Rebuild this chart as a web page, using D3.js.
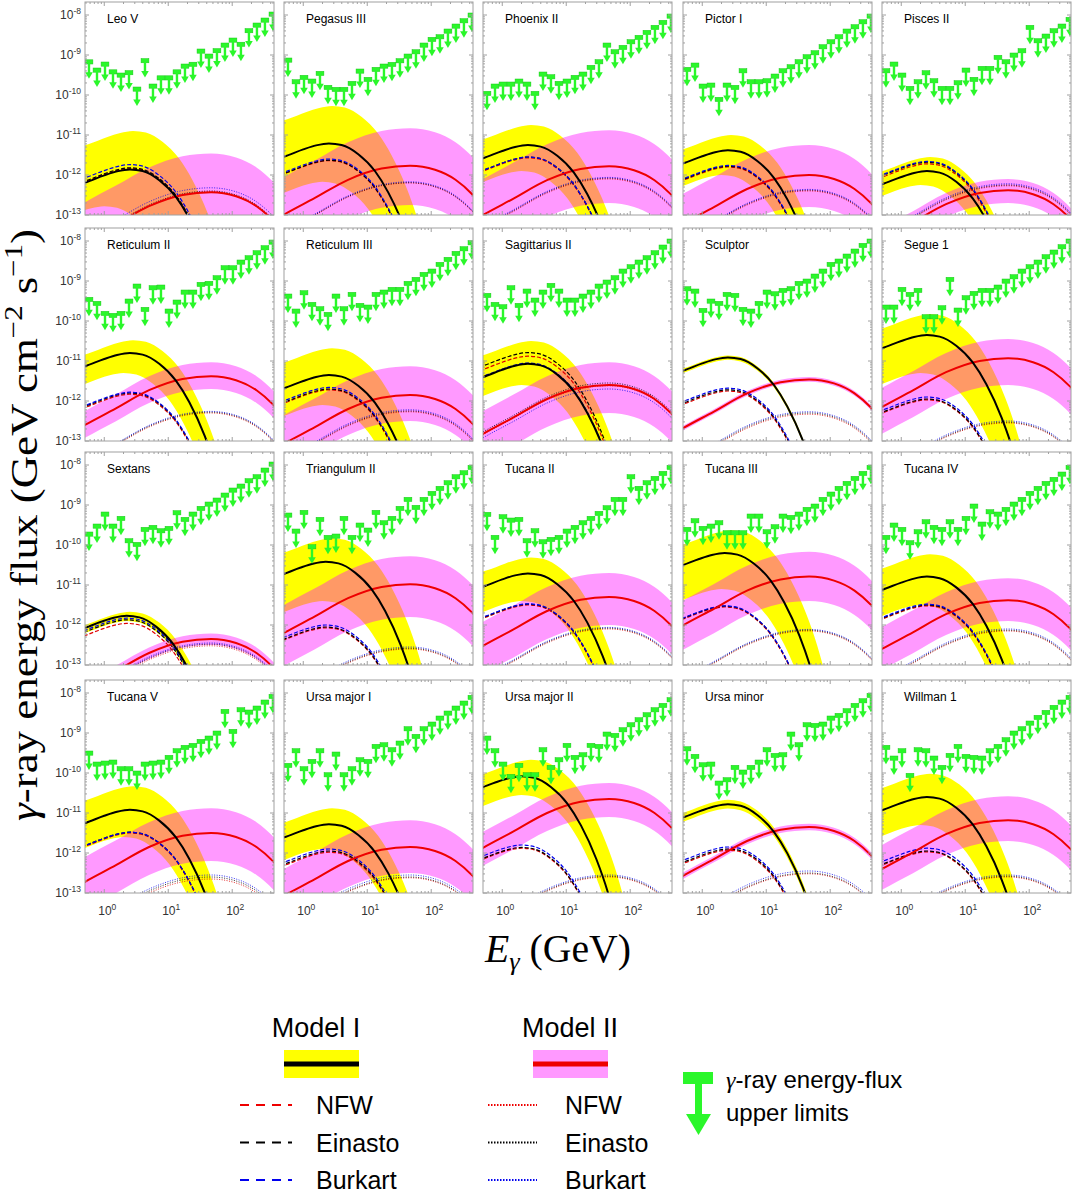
<!DOCTYPE html>
<html>
<head>
<meta charset="utf-8">
<script src="https://cdn.jsdelivr.net/npm/d3@7"></script>
<style>
  body { margin: 0; background: #fff; }
  text { font-family: "Liberation Sans", Arial, sans-serif; }
</style>
</head>
<body>
<div id="chart"></div>
<script>
// dwarf galaxies, one panel each
var dwarfs = ["Leo V", "Pegasus III", "Phoenix II", "Pictor I", "Pisces II",
              "Reticulum II", "Reticulum III", "Sagittarius II", "Sculptor", "Segue 1",
              "Sextans", "Triangulum II", "Tucana II", "Tucana III", "Tucana IV",
              "Tucana V", "Ursa major I", "Ursa major II", "Ursa minor", "Willman 1"];

// energy bin centres (GeV) of the upper limits
var binEnergy = [0.577, 0.770, 1.027, 1.369, 1.826, 2.435, 3.247, 4.330, 5.774, 7.700,
                 10.27, 13.69, 18.26, 24.35, 32.47, 43.30, 57.74, 77.00, 102.7, 136.9,
                 182.6, 243.5, 324.7, 433.0];

// log10 of the energy-flux upper limits, one row per dwarf
var upperLimits = [
  [-9.17,-9.375,-9.225,-9.42,-9.5,-9.44,-9.85,-9.14,-9.775,-9.57,-9.57,-9.42,-9.275,-9.23,-8.9,-9.025,-8.89,-8.75,-8.625,-8.73,-8.39,-8.25,-8.125,-7.975],
  [-9.125,-9.667,-9.558,-9.65,-9.458,-9.808,-9.858,-9.858,-9.708,-9.4,-9.608,-9.358,-9.275,-9.233,-9.142,-9.025,-8.917,-8.75,-8.608,-8.542,-8.4,-8.275,-8.142,-8.0],
  [-9.958,-9.775,-9.725,-9.725,-9.65,-9.725,-9.958,-9.475,-9.542,-9.708,-9.65,-9.558,-9.475,-9.308,-9.167,-8.75,-8.917,-8.808,-8.667,-8.558,-8.433,-8.308,-8.183,-8.025],
  [-9.358,-9.25,-9.775,-9.75,-10.108,-9.75,-9.808,-9.392,-9.667,-9.667,-9.642,-9.525,-9.392,-9.292,-9.167,-9.042,-8.942,-8.792,-8.667,-8.542,-8.4,-8.292,-8.167,-8.025],
  [-9.392,-9.225,-9.5,-9.833,-9.667,-9.442,-9.642,-9.833,-9.833,-9.692,-9.375,-9.608,-9.333,-9.333,-9.058,-9.167,-9.0,-8.892,-8.308,-8.642,-8.525,-8.392,-8.275,-8.108],
  [-9.458,-9.558,-9.808,-9.858,-9.808,-9.5,-9.125,-9.708,-9.167,-9.15,-9.75,-9.525,-9.275,-9.275,-9.083,-9.058,-8.917,-8.667,-8.667,-8.525,-8.417,-8.292,-8.167,-8.025],
  [-9.375,-9.75,-9.292,-9.583,-9.692,-9.833,-9.375,-9.692,-9.333,-9.608,-9.65,-9.333,-9.275,-9.208,-9.208,-9.058,-8.958,-8.833,-8.75,-8.583,-8.458,-8.308,-8.192,-8.042],
  [-9.358,-9.583,-9.642,-9.167,-9.608,-9.25,-9.475,-9.275,-9.108,-9.25,-9.475,-9.475,-9.375,-9.275,-9.125,-9.025,-8.917,-8.75,-8.642,-8.525,-8.417,-8.292,-8.15,-8.0],
  [-9.192,-9.25,-9.733,-9.5,-9.558,-9.333,-9.358,-9.708,-9.75,-9.558,-9.275,-9.317,-9.233,-9.192,-9.058,-9.0,-8.875,-8.75,-8.583,-8.5,-8.375,-8.25,-8.108,-8.0],
  [-9.65,-9.65,-9.208,-9.333,-9.233,-9.892,-9.892,-9.667,-8.958,-9.725,-9.417,-9.308,-9.233,-9.233,-9.15,-9.0,-8.892,-8.75,-8.642,-8.525,-8.392,-8.275,-8.142,-8.0],
  [-9.725,-9.525,-9.225,-9.525,-9.333,-9.892,-9.983,-9.608,-9.558,-9.642,-9.583,-9.192,-9.358,-9.225,-9.083,-8.975,-8.875,-8.75,-8.625,-8.525,-8.392,-8.292,-8.125,-7.975],
  [-9.25,-9.65,-9.183,-10.042,-9.358,-9.808,-9.775,-9.333,-9.808,-9.5,-9.625,-9.183,-9.442,-9.333,-9.083,-8.858,-9.058,-8.858,-8.708,-8.583,-8.442,-8.292,-8.192,-8.058],
  [-9.233,-9.808,-9.292,-9.375,-9.358,-9.892,-9.642,-9.917,-9.858,-9.808,-9.65,-9.558,-9.442,-9.333,-9.208,-9.067,-8.858,-8.858,-8.292,-8.583,-8.442,-8.333,-8.208,-8.058],
  [-9.608,-9.392,-9.583,-9.525,-9.442,-9.692,-9.692,-9.692,-9.275,-9.275,-9.667,-9.542,-9.275,-9.308,-9.225,-9.108,-9.025,-8.858,-8.725,-8.583,-8.458,-8.333,-8.208,-8.058],
  [-9.808,-9.5,-9.608,-9.942,-9.667,-9.417,-9.558,-9.608,-9.417,-9.608,-9.333,-9.025,-9.475,-9.167,-9.225,-9.108,-8.975,-8.858,-8.708,-8.583,-8.458,-8.358,-8.225,-8.058],
  [-9.5,-9.775,-9.75,-9.725,-9.892,-9.892,-10.0,-9.775,-9.75,-9.725,-9.608,-9.442,-9.358,-9.308,-9.208,-9.125,-9.0,-8.458,-8.958,-8.417,-8.475,-8.375,-8.225,-8.083],
  [-9.808,-9.442,-9.892,-9.708,-9.442,-10.042,-9.525,-10.042,-9.892,-9.667,-9.708,-9.333,-9.292,-9.417,-9.25,-8.892,-9.083,-8.892,-8.775,-8.625,-8.5,-8.375,-8.25,-8.108],
  [-9.125,-9.442,-9.775,-10.083,-9.808,-10.042,-10.042,-9.417,-9.858,-9.667,-9.308,-9.608,-9.542,-9.308,-9.333,-9.025,-9.058,-8.917,-8.792,-8.667,-8.542,-8.417,-8.308,-8.167],
  [-9.392,-9.583,-9.792,-9.775,-10.25,-10.167,-9.858,-9.975,-9.858,-9.725,-9.417,-9.558,-9.542,-9.025,-9.292,-8.792,-8.808,-8.775,-8.625,-8.558,-8.442,-8.308,-8.192,-8.058],
  [-9.358,-9.625,-9.442,-10.058,-9.417,-9.442,-9.625,-9.858,-9.558,-9.333,-9.583,-9.608,-9.625,-9.442,-9.333,-9.167,-9.0,-8.892,-8.75,-8.608,-8.483,-8.358,-8.225,-8.108]
];

// spectral shapes: log10 E (GeV) and log10 flux relative to the peak
var shapeILogE  = [-1.3, -0.9, -0.6, -0.3, 0, 0.2, 0.4, 0.6, 0.86, 1.12, 1.33, 1.57, 1.75, 1.9, 2.1, 2.4];
var shapeIRel   = [-1.0, -0.62, -0.46, -0.33, -0.15, -0.05, 0, -0.04, -0.27, -0.69, -1.23, -2.07, -2.9, -3.8, -5.5, -9];
var shapeIILogE = [-1.2, -0.7, -0.301, 0.176, 0.70, 1.224, 1.67, 2.06, 2.38, 2.64, 2.8, 3.0];
var shapeIIRel  = [-2.1, -1.6, -1.22, -0.81, -0.35, -0.07, 0, -0.10, -0.35, -0.71, -1.0, -1.5];

// Model I (yellow band, black line): log10 peak flux and log10 E shift of the shape
var peakI    = [-11.86,-11.21,-11.25,-11.38,-11.9,-10.8,-11.35,-11.07,-10.91,-10.35,-11.77,-10.42,-10.71,-10.2,-10.79,-10.92,-11.28,-10.08,-10.78,-10.6];
var shiftI   = [0,0,0,0,0,0,0,0,0,0,-0.05,-0.05,0,-0.05,0,0,0,-0.1,0,0];
var bandHiI  = [-10.9,-10.275,-10.75,-11.0,-11.55,-10.48,-10.68,-10.5,-10.86,-9.83,-11.67,-9.83,-10.31,-9.63,-10.23,-10.33,-10.88,-9.67,-10.67,-10.02];
var bandHiShiftI = [0.05,0.05,0.05,0.05,0.05,0.05,0.05,0.05,0,0.05,0,0.05,0.05,0.05,0.05,0.05,0.05,0.05,0,0.05];
var bandLoI  = [-12.78,-12.17,-11.9,-12.0,-12.25,-11.3,-12.1,-11.6,-10.97,-11.3,-11.9,-11.4,-11.4,-11.1,-11.5,-11.6,-11.9,-10.55,-10.89,-11.3];
var bandLoShiftI = [-0.4,-0.1,-0.1,-0.1,-0.1,-0.1,-0.1,-0.1,0,-0.1,-0.05,-0.1,-0.1,-0.1,-0.1,-0.1,-0.1,-0.1,0,-0.1];
var nfwI     = [-11.84,-11.64,-11.57,-11.8,-11.72,-11.83,-11.72,-10.88,-11.75,-11.97,-11.96,-12.07,-11.5,-11.55,-11.52,-11.5,-11.98,-11.88,-11.93,-11.97];
var einastoI = [-11.82,-11.63,-11.55,-11.78,-11.68,-11.8,-11.7,-10.79,-11.72,-11.95,-11.87,-12.05,-11.48,-11.53,-11.5,-11.48,-11.95,-11.86,-11.9,-11.95];
var burkartI = [-11.74,-11.6,-11.55,-11.76,-11.66,-11.78,-11.66,-11.05,-11.68,-11.9,-11.83,-12.0,-11.47,-11.52,-11.48,-11.48,-11.9,-11.8,-11.85,-11.88];

// Model II (magenta band, red line)
var peakII    = [-12.43,-11.77,-11.78,-12.0,-12.38,-11.38,-11.85,-11.6,-11.46,-10.93,-12.35,-10.98,-11.3,-10.79,-11.38,-11.5,-11.85,-10.65,-11.35,-11.18];
var bandHiII  = [-11.46,-10.83,-10.88,-11.25,-12.1,-11.03,-11.13,-11.03,-11.4,-10.45,-12.21,-10.28,-10.7,-10.17,-10.83,-10.88,-11.18,-10.25,-11.27,-10.58];
var bandLoII  = [-13.3,-12.75,-12.7,-12.8,-12.7,-11.7,-12.5,-12.3,-11.52,-11.6,-12.5,-11.8,-12.0,-11.4,-11.9,-12.2,-12.5,-11.1,-11.43,-11.7];
var nfwII     = [-12.42,-12.2,-12.1,-12.4,-12.27,-12.3,-12.27,-11.62,-12.33,-12.55,-12.52,-12.6,-12.1,-12.15,-12.15,-12.65,-12.62,-12.6,-12.52,-12.6];
var einastoII = [-12.4,-12.19,-12.08,-12.38,-12.25,-12.28,-12.25,-11.55,-12.3,-12.53,-12.48,-12.58,-12.08,-12.13,-12.13,-12.6,-12.6,-12.58,-12.5,-12.58];
var burkartII = [-12.32,-12.17,-12.06,-12.36,-12.22,-12.26,-12.22,-11.7,-12.27,-12.5,-12.45,-12.55,-12.06,-12.11,-12.1,-12.55,-12.55,-12.55,-12.45,-12.55];

var yTicks = [-13, -12, -11, -10, -9, -8];
var xTicks = [0, 1, 2];

function init() {
    var w = 1080, h = 1198;
    var colLeft = [85, 284, 483, 683, 882];
    var rowTop = [2, 228, 452, 680];
    var pw = 189, ph = 213;

    var svg = d3.select("#chart").append("svg")
        .attr("width", w).attr("height", h);

    var x = d3.scaleLog().domain([0.5, 450]).range([0, pw]);
    var y = d3.scaleLog().domain([1e-13, Math.pow(10, -7.675)]).range([ph, 0]);

    var line = d3.line()
        .x(function(d) { return x(d[0]); })
        .y(function(d) { return y(d[1]); })
        .curve(d3.curveMonotoneX);

    // shape placed at a given peak and log-energy shift
    function placeShape(logE, rel, peak, shift) {
        return logE.map(function(le, k) {
            return [Math.pow(10, le + shift), Math.pow(10, peak + rel[k])];
        });
    }

    function bandPath(hi, lo) {
        var top = line(hi);
        var bottom = line(lo.slice().reverse());
        return top + "L" + bottom.slice(1) + "Z";
    }

    var defs = svg.append("defs");

    dwarfs.forEach(function(name, i) {
        var col = i % 5, row = Math.floor(i / 5);
        var g = svg.append("g")
            .attr("transform", "translate(" + colLeft[col] + "," + rowTop[row] + ")");

        defs.append("clipPath").attr("id", "clip" + i)
            .append("rect").attr("width", pw).attr("height", ph);

        var plot = g.append("g").attr("clip-path", "url(#clip" + i + ")");

        // Model I band
        plot.append("path")
            .attr("d", bandPath(
                placeShape(shapeILogE, shapeIRel, bandHiI[i], bandHiShiftI[i]),
                placeShape(shapeILogE, shapeIRel, bandLoI[i], bandLoShiftI[i])))
            .style("fill", "#ffff00");

        // Model II band, see-through so overlap turns orange
        plot.append("path")
            .attr("d", bandPath(
                placeShape(shapeIILogE, shapeIIRel, bandHiII[i], 0),
                placeShape(shapeIILogE, shapeIIRel, bandLoII[i], 0)))
            .style("fill", "#ff00ff")
            .style("opacity", 0.4);

        // halo profiles, Model II dotted
        [[nfwII, "#e00000"], [einastoII, "#000000"], [burkartII, "#0000ee"]].forEach(function(p) {
            plot.append("path")
                .attr("d", line(placeShape(shapeIILogE, shapeIIRel, p[0][i], 0)))
                .style("fill", "none").style("stroke", p[1])
                .style("stroke-width", 1).style("stroke-dasharray", "1,1.5")
                .style("opacity", 0.8);
        });
        // halo profiles, Model I dashed
        [[nfwI, "#e00000"], [einastoI, "#000000"], [burkartI, "#0000ee"]].forEach(function(p) {
            plot.append("path")
                .attr("d", line(placeShape(shapeILogE, shapeIRel, p[0][i], shiftI[i])))
                .style("fill", "none").style("stroke", p[1])
                .style("stroke-width", 1.2).style("stroke-dasharray", "4,2");
        });

        plot.append("path")
            .attr("d", line(placeShape(shapeIILogE, shapeIIRel, peakII[i], 0)))
            .style("fill", "none").style("stroke", "#ee0000").style("stroke-width", 2);
        plot.append("path")
            .attr("d", line(placeShape(shapeILogE, shapeIRel, peakI[i], shiftI[i])))
            .style("fill", "none").style("stroke", "#000").style("stroke-width", 2);

        // upper-limit arrows
        var arrows = plot.selectAll("g.ul")
            .data(upperLimits[i].map(function(v, k) { return [binEnergy[k], Math.pow(10, v)]; }))
            .enter().append("g").attr("class", "ul")
            .attr("transform", function(d) { return "translate(" + x(d[0]) + "," + y(d[1]) + ")"; })
            .style("fill", "#2af72a");
        arrows.append("rect").attr("x", -3.9).attr("y", -2).attr("width", 7.8).attr("height", 4.2)
            .style("stroke", "#18c818").style("stroke-width", 0.5);
        arrows.append("rect").attr("x", -1.2).attr("y", 1).attr("width", 2.4).attr("height", 11);
        arrows.append("path").attr("d", "M-3.8,10.5L3.8,10.5L0,17Z");

        // frame and ticks
        g.append("rect").attr("width", pw).attr("height", ph)
            .style("fill", "none").style("stroke", "#a0a0a0").style("stroke-width", 1);

        var xMinor = [];
        [-1, 0, 1, 2].forEach(function(dec) {
            for (var m = 1; m < 10; m++) {
                var v = m * Math.pow(10, dec);
                if (v > 0.5 && v < 450) xMinor.push(v);
            }
        });
        xMinor.forEach(function(v) {
            var len = (v === 1 || v === 10 || v === 100) ? 4 : 2;
            g.append("line").attr("x1", x(v)).attr("x2", x(v)).attr("y1", ph).attr("y2", ph - len)
                .style("stroke", "#a0a0a0");
            g.append("line").attr("x1", x(v)).attr("x2", x(v)).attr("y1", 0).attr("y2", len)
                .style("stroke", "#a0a0a0");
        });
        yTicks.forEach(function(e) {
            for (var m = 1; m < 10; m++) {
                var v = m * Math.pow(10, e);
                if (v > y.domain()[1]) continue;
                var len = m === 1 ? 4 : 2;
                g.append("line").attr("x1", 0).attr("x2", len).attr("y1", y(v)).attr("y2", y(v))
                    .style("stroke", "#a0a0a0");
                g.append("line").attr("x1", pw).attr("x2", pw - len).attr("y1", y(v)).attr("y2", y(v))
                    .style("stroke", "#a0a0a0");
            }
        });

        g.append("text").attr("x", 22).attr("y", 21)
            .style("font-size", "12px").style("fill", "#000").text(name);

        if (col === 0) {
            yTicks.forEach(function(e) {
                var t = g.append("text").attr("x", -4).attr("y", y(Math.pow(10, e)) + 4)
                    .attr("text-anchor", "end").style("font-size", "12px").style("fill", "#333");
                t.append("tspan").text("10");
                t.append("tspan").attr("dy", -5).style("font-size", "8.5px").text("-" + (-e));
            });
        }
        if (row === 3) {
            xTicks.forEach(function(e) {
                var t = g.append("text").attr("x", x(Math.pow(10, e)) + 3).attr("y", ph + 22)
                    .attr("text-anchor", "middle").style("font-size", "12px").style("fill", "#333");
                t.append("tspan").text("10");
                t.append("tspan").attr("dy", -5).style("font-size", "8.5px").text(e);
            });
        }
    });

    // axis titles
    var yl = svg.append("text")
        .attr("transform", "translate(37,525) rotate(-90)")
        .attr("text-anchor", "middle")
        .attr("textLength", 592).attr("lengthAdjust", "spacingAndGlyphs")
        .style("font-family", "'Liberation Serif', serif").style("font-size", "38px");
    yl.append("tspan").style("font-style", "italic").text("γ");
    yl.append("tspan").text("-ray energy flux (GeV cm");
    yl.append("tspan").attr("dy", -15).style("font-size", "26px").text("−2");
    yl.append("tspan").attr("dy", 15).text(" s");
    yl.append("tspan").attr("dy", -15).style("font-size", "26px").text("−1");
    yl.append("tspan").attr("dy", 15).text(")");

    var xl = svg.append("text").attr("x", 558).attr("y", 962)
        .attr("text-anchor", "middle")
        .attr("textLength", 146).attr("lengthAdjust", "spacingAndGlyphs")
        .style("font-family", "'Liberation Serif', serif").style("font-size", "39px");
    xl.append("tspan").style("font-style", "italic").text("E");
    xl.append("tspan").attr("dy", 8).style("font-size", "26px").style("font-style", "italic").text("γ");
    xl.append("tspan").attr("dy", -8).text(" (GeV)");

    // legend
    var lg = svg.append("g");
    lg.append("text").attr("x", 316).attr("y", 1037).attr("text-anchor", "middle")
        .style("font-size", "27px").text("Model I");
    lg.append("text").attr("x", 570).attr("y", 1037).attr("text-anchor", "middle")
        .style("font-size", "27px").text("Model II");
    lg.append("rect").attr("x", 284).attr("y", 1050).attr("width", 75).attr("height", 28).style("fill", "#ffff00");
    lg.append("line").attr("x1", 284).attr("x2", 359).attr("y1", 1064).attr("y2", 1064)
        .style("stroke", "#000").style("stroke-width", 5);
    lg.append("rect").attr("x", 533).attr("y", 1050).attr("width", 75).attr("height", 28)
        .style("fill", "#ff00ff").style("opacity", 0.4);
    lg.append("line").attr("x1", 533).attr("x2", 608).attr("y1", 1064).attr("y2", 1064)
        .style("stroke", "#ee0000").style("stroke-width", 5);

    var profiles = ["NFW", "Einasto", "Burkart"];
    var profileColors = ["#ee0000", "#000000", "#0000ee"];
    profiles.forEach(function(p, k) {
        var yy = 1105 + k * 37.5;
        lg.append("line").attr("x1", 240).attr("x2", 292).attr("y1", yy).attr("y2", yy)
            .style("stroke", profileColors[k]).style("stroke-width", 2).style("stroke-dasharray", "9,7");
        lg.append("text").attr("x", 316).attr("y", yy + 9).style("font-size", "25px").text(p);
        lg.append("line").attr("x1", 488).attr("x2", 537).attr("y1", yy).attr("y2", yy)
            .style("stroke", profileColors[k]).style("stroke-width", 2).style("stroke-dasharray", "1.5,1.5");
        lg.append("text").attr("x", 565).attr("y", yy + 9).style("font-size", "25px").text(p);
    });

    lg.append("rect").attr("x", 683).attr("y", 1072).attr("width", 30).attr("height", 12).style("fill", "#2af72a");
    lg.append("rect").attr("x", 695).attr("y", 1082).attr("width", 7).attr("height", 36).style("fill", "#2af72a");
    lg.append("path").attr("d", "M686,1114L711,1114L698.5,1135Z").style("fill", "#2af72a");
    var lt = lg.append("text").attr("x", 726).attr("y", 1088).style("font-size", "24px");
    lt.append("tspan").style("font-family", "'Liberation Serif', serif").style("font-style", "italic").text("γ");
    lt.append("tspan").text("-ray energy-flux");
    lg.append("text").attr("x", 726).attr("y", 1121).style("font-size", "24px").text("upper limits");
}

window.onload = init;
</script>
</body>
</html>
